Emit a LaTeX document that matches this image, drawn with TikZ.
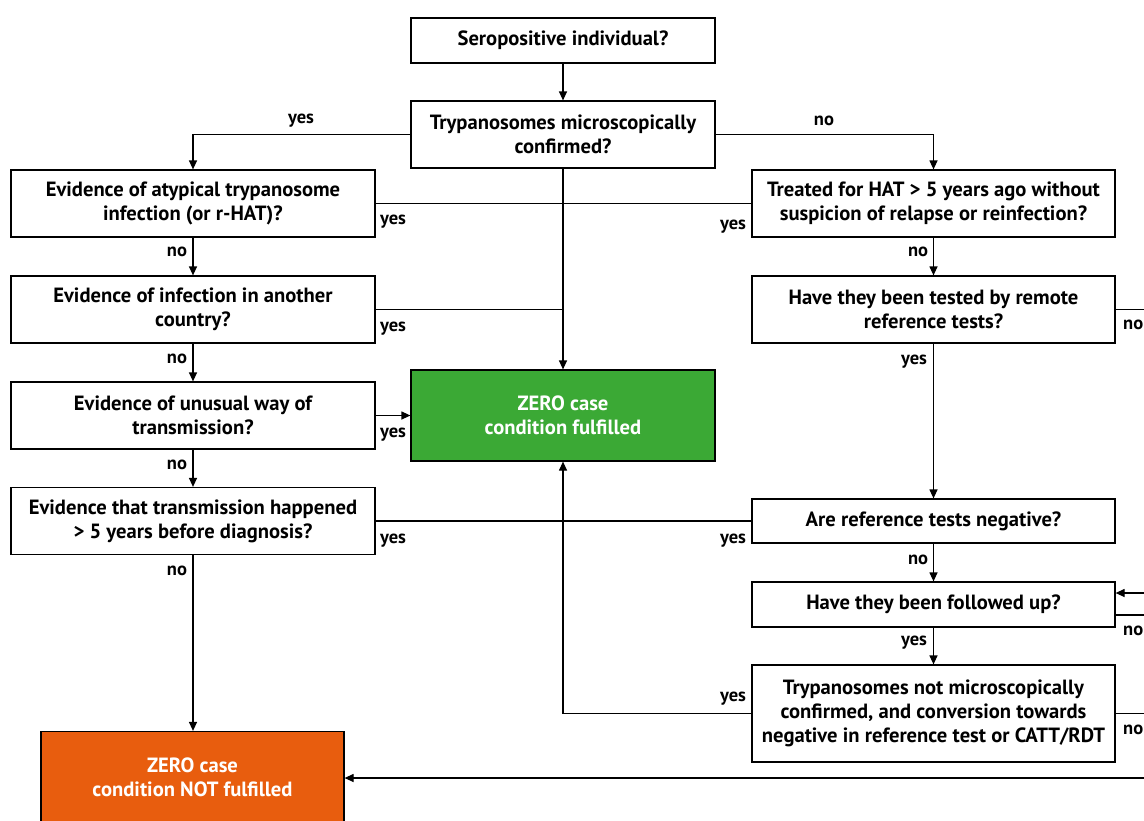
\documentclass[tikz,border=0pt]{standalone}
\usepackage{fontspec}
\setmainfont{PT Sans}
\usetikzlibrary{arrows.meta}
\definecolor{okgreen}{HTML}{3BA935}
\definecolor{notorange}{HTML}{E85D0E}
\tikzset{
  box/.style={draw=black, line width=1.2pt, fill=white, align=center, inner sep=0pt,
    font=\fontsize{20.6}{24}\selectfont\bfseries},
  okbox/.style={box, fill=okgreen, text=white},
  notbox/.style={box, fill=notorange, text=white},
  conn/.style={line width=1.2pt},
  arr/.style={conn, -{Triangle[length=9pt,width=8pt]}},
  lab/.style={font=\fontsize{18.5}{20}\selectfont\bfseries, inner sep=0pt, yshift=-3pt},
}
\begin{document}
\begin{tikzpicture}[x=1pt,y=-1pt]
\useasboundingbox (0,0) rectangle (1144,820);
\clip (0,0) rectangle (1144,820);
\fill[white] (0,0) rectangle (1144,820);
% boxes
\node[box, minimum width=304, minimum height=45] (sero) at (563,40.5) {Seropositive individual?};
\node[box, minimum width=304, minimum height=67] (tryp) at (563,134.5) {Trypanosomes microscopically\\confirmed?};
\node[box, minimum width=364, minimum height=67] (atyp) at (193,203.5) {Evidence of atypical trypanosome\\infection (or r-HAT)?};
\node[box, minimum width=364, minimum height=67] (other) at (193,309.5) {Evidence of infection in another\\country?};
\node[box, minimum width=364, minimum height=67] (unusual) at (193,415.5) {Evidence of unusual way of\\transmission?};
\node[box, minimum width=364, minimum height=67] (trans) at (193,521) {Evidence that transmission happened\\> 5 years before diagnosis?};
\node[notbox, minimum width=303, minimum height=91] (notf) at (192.5,777) {ZERO case\\condition NOT fulfilled};
\node[okbox, minimum width=304, minimum height=91] (ok) at (563,415.5) {ZERO case\\condition fulfilled};
\node[box, minimum width=363, minimum height=67] (treated) at (933.5,203.5) {Treated for HAT > 5 years ago without\\suspicion of relapse or reinfection?};
\node[box, minimum width=363, minimum height=67] (remote) at (933.5,309.5) {Have they been tested by remote\\reference tests?};
\node[box, minimum width=363, minimum height=44] (refneg) at (933.5,521) {Are reference tests negative?};
\node[box, minimum width=363, minimum height=45] (follow) at (933.5,604.5) {Have they been followed up?};
\node[box, minimum width=363, minimum height=97] (trynot) at (933.5,713.5) {Trypanosomes not microscopically\\confirmed, and conversion towards\\negative in reference test or CATT/RDT};
% free ends at the cut edge
\coordinate (e1) at ([xshift=40pt]remote.east);
\coordinate (e2) at (1150,593);
\coordinate (e3) at (1150,615);
\coordinate (e4) at ([xshift=40pt]trynot.east);
\coordinate (e5) at (1150,778);
% connectors
\draw[arr] (sero) -- (tryp);
\draw[arr] (tryp.west) -| (atyp.north);
\draw[arr] (tryp.east) -| (treated.north);
\draw[arr] (tryp) -- (ok);
\draw[conn] (atyp.east) -- (treated.west);
\draw[conn] (other.east) -- (other.east -| ok.north);
\draw[arr] (atyp) -- (other);
\draw[arr] (other) -- (unusual);
\draw[arr] (unusual) -- (trans);
\draw[arr] (unusual.east) -- (ok.west);
\draw[conn] (trans.east) -- (refneg.west);
\draw[arr] (trans.south) -- (trans.south |- notf.north);
\draw[arr] (treated) -- (remote);
\draw[arr] (remote) -- (refneg);
\draw[arr] (refneg) -- (follow);
\draw[arr] (follow) -- (trynot);
\draw[arr] (trynot.west) -| (ok.south);
\draw[conn] (remote.east) -- (e1);
\draw[arr] (e2) -- (follow.east |- e2);
\draw[conn] (follow.east |- e3) -- (e3);
\draw[conn] (trynot.east) -- (e4);
\draw[arr] (e5) -- (notf.east |- e5);
% labels
\node[lab] (l1) at (301,118) {yes};
\node[lab] (l2) at (824,118) {no};
\node[lab] (l3) at (393,219) {yes};
\node[lab] (l4) at (733,224) {yes};
\node[lab] (l5) at (177,249) {no};
\node[lab] (l6) at (918,249) {no};
\node[lab] (l7) at (393,326) {yes};
\node[lab, anchor=west] (l8) at (1123,322) {no};
\node[lab] (l9) at (177,356) {no};
\node[lab] (l10) at (914,359) {yes};
\node[lab] (l11) at (393,432) {yes};
\node[lab] (l12) at (177,462) {no};
\node[lab] (l13) at (393,538) {yes};
\node[lab] (l14) at (733,538) {yes};
\node[lab] (l15) at (918,557) {no};
\node[lab] (l16) at (177,568) {no};
\node[lab, anchor=west] (l17) at (1123,628) {no};
\node[lab] (l18) at (914,640) {yes};
\node[lab] (l19) at (733,696) {yes};
\node[lab, anchor=west] (l20) at (1123,727) {no};
\end{tikzpicture}
\end{document}
